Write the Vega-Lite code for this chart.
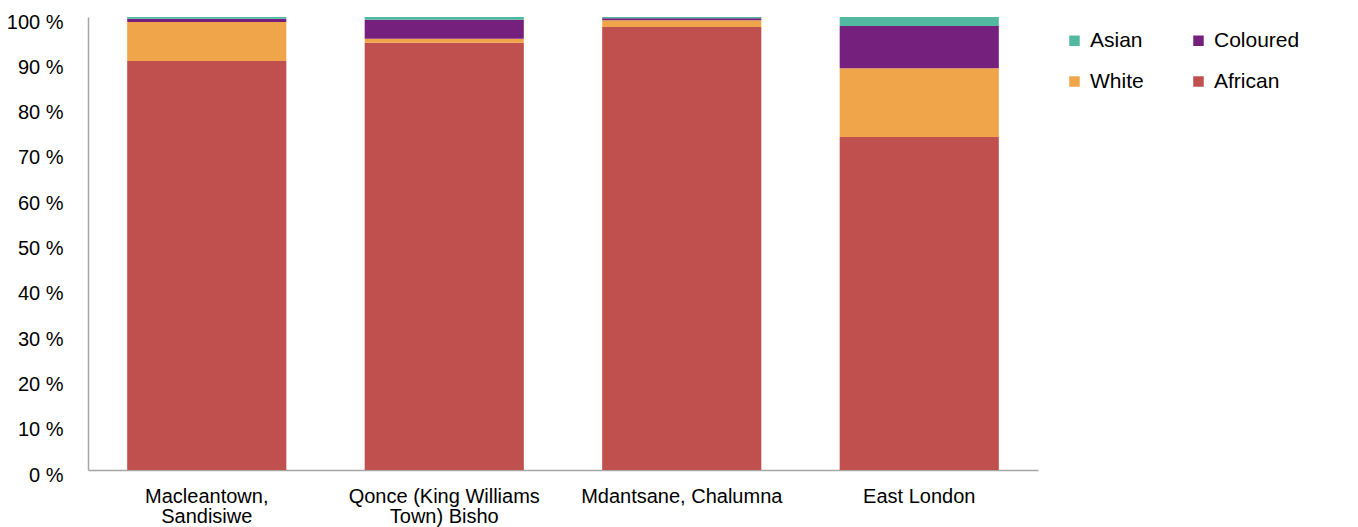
{
  "$schema": "https://vega.github.io/schema/vega-lite/v6.json",
  "autosize": {"type": "none"},
  "width": 950,
  "height": 453,
  "padding": {"left": 88, "top": 17, "right": 320, "bottom": 57},
  "background": "white",
  "config": {
    "font": "Liberation Sans",
    "view": {"stroke": null}
  },
  "data": {
    "values": [
      {"area": "Macleantown, Sandisiwe", "group": "African", "share": 90.3},
      {"area": "Macleantown, Sandisiwe", "group": "White", "share": 8.6},
      {"area": "Macleantown, Sandisiwe", "group": "Coloured", "share": 0.7},
      {"area": "Macleantown, Sandisiwe", "group": "Asian", "share": 0.4},
      {"area": "Qonce (King Williams Town) Bisho", "group": "African", "share": 94.3},
      {"area": "Qonce (King Williams Town) Bisho", "group": "White", "share": 0.9},
      {"area": "Qonce (King Williams Town) Bisho", "group": "Coloured", "share": 4.2},
      {"area": "Qonce (King Williams Town) Bisho", "group": "Asian", "share": 0.6},
      {"area": "Mdantsane, Chalumna", "group": "African", "share": 97.8},
      {"area": "Mdantsane, Chalumna", "group": "White", "share": 1.5},
      {"area": "Mdantsane, Chalumna", "group": "Coloured", "share": 0.4},
      {"area": "Mdantsane, Chalumna", "group": "Asian", "share": 0.3},
      {"area": "East London", "group": "African", "share": 73.5},
      {"area": "East London", "group": "White", "share": 15.2},
      {"area": "East London", "group": "Coloured", "share": 9.3},
      {"area": "East London", "group": "Asian", "share": 2.0}
    ]
  },
  "transform": [
    {"calculate": "indexof(['African', 'White', 'Coloured', 'Asian'], datum.group)", "as": "stackOrder"}
  ],
  "mark": {"type": "bar"},
  "encoding": {
    "x": {
      "field": "area",
      "type": "nominal",
      "sort": null,
      "scale": {"paddingInner": 0.33, "paddingOuter": 0.165},
      "axis": {
        "title": null,
        "labelAngle": 0,
        "ticks": false,
        "domainColor": "#A6A6A6",
        "domainWidth": 1.5,
        "labelFontSize": 20,
        "labelColor": "#000000",
        "labelPadding": 16,
        "labelLineHeight": 20,
        "labelLimit": 400,
        "labelExpr": "datum.label == 'Macleantown, Sandisiwe' ? ['Macleantown,', 'Sandisiwe'] : datum.label == 'Qonce (King Williams Town) Bisho' ? ['Qonce (King Williams', 'Town) Bisho'] : datum.label"
      }
    },
    "y": {
      "field": "share",
      "type": "quantitative",
      "stack": "zero",
      "scale": {"domain": [0, 100], "nice": false},
      "axis": {
        "title": null,
        "values": [0, 10, 20, 30, 40, 50, 60, 70, 80, 90, 100],
        "grid": false,
        "ticks": false,
        "domainColor": "#A6A6A6",
        "domainWidth": 1.5,
        "labelFontSize": 20,
        "labelColor": "#000000",
        "labelPadding": 25,
        "labelOffset": 5,
        "labelExpr": "datum.value + ' %'"
      }
    },
    "order": {"field": "stackOrder", "type": "quantitative", "sort": "ascending"},
    "color": {
      "field": "group",
      "type": "nominal",
      "scale": {
        "domain": ["African", "White", "Coloured", "Asian"],
        "range": ["#C0504D", "#F0A54A", "#75207D", "#52B9A0"]
      },
      "legend": {
        "title": null,
        "orient": "none",
        "legendX": 976,
        "legendY": 13,
        "padding": 0,
        "columns": 2,
        "columnPadding": 44,
        "rowPadding": 19,
        "values": ["Asian", "White", "Coloured", "African"],
        "symbolType": "square",
        "symbolSize": 110,
        "symbolStrokeWidth": 0,
        "labelFontSize": 21,
        "labelColor": "#000000",
        "labelOffset": 5
      }
    }
  }
}
